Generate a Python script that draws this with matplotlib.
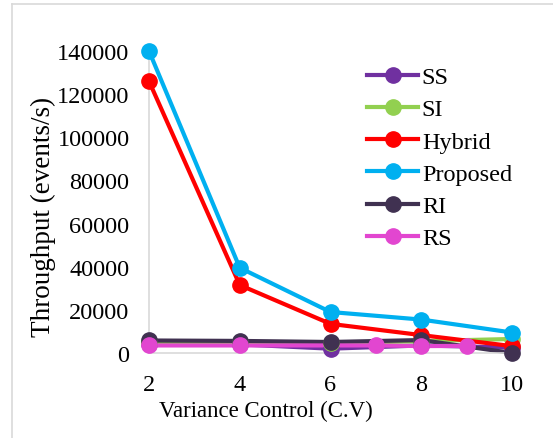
import matplotlib
matplotlib.use('Agg')
import matplotlib.pyplot as plt
from matplotlib.lines import Line2D

plt.rcParams['font.family'] = ['Liberation Serif', 'DejaVu Serif']

# throughput per variance control level
cv = [2, 4, 6, 8, 10]
cv_rs = [2, 4, 7, 8, 9]
ss = [4000, 4000, 2000, 3500, 2500]
si = [5000, 5000, 4500, 5500, 6500]
hybrid = [126000, 31500, 13500, 8300, 3200]
proposed = [140000, 39500, 19000, 15500, 9500]
ri = [5800, 5600, 5100, 6000, 0]
rs = [3500, 3500, 3500, 3200, 3300]

names = ['SS', 'SI', 'Hybrid', 'Proposed', 'RI', 'RS']
colors = ['#7030A0', '#92D050', '#FF0000', '#00B0F0', '#403151', '#E246D0']
xs = [cv, cv, cv, cv, cv, cv_rs]
ys = [ss, si, hybrid, proposed, ri, rs]

yticks = [0, 20000, 40000, 60000, 80000, 100000, 120000, 140000]
xticks = [2, 4, 6, 8, 10]

fs = 17.5
fig = plt.figure(figsize=(5.53, 4.39), dpi=100)
ax = fig.add_axes([149 / 553, 1 - 354 / 439, 363 / 553, 302 / 439])

# lines first, markers on top
for i in range(len(names)):
    ax.plot(xs[i], ys[i], color=colors[i], lw=3, zorder=2 + i * 0.01,
            clip_on=False, solid_capstyle='round')
for i in range(len(names)):
    ax.plot(xs[i], ys[i], ls='none', marker='o', ms=11, color=colors[i],
            zorder=3 + i * 0.01, clip_on=False)

ax.set_xlim(2, 10)
ax.set_ylim(0, 140000)
ax.set_xticks(xticks)
ax.set_yticks(yticks)
ax.set_xticklabels([str(v) for v in xticks], fontsize=fs)
ax.set_yticklabels([str(v) for v in yticks], fontsize=fs)
ax.tick_params(length=0)
ax.tick_params(axis='y', pad=14)
ax.tick_params(axis='x', pad=15)
for s in ['top', 'right']:
    ax.spines[s].set_visible(False)
for s in ['left', 'bottom']:
    ax.spines[s].set_color('#d9d9d9')
    ax.spines[s].set_linewidth(1.2)

ax.set_xlabel('Variance Control (C.V)', fontsize=16.5)
ax.xaxis.set_label_coords(0.322, -0.155)
ax.set_ylabel('Throughput (events/s)', fontsize=19.5)
ax.yaxis.set_label_coords(-0.255, 0.454)

handles = [Line2D([], [], color=c, lw=3, marker='o', ms=11) for c in colors]
leg = fig.legend(handles, names, loc='upper left', bbox_to_anchor=(355 / 553, 1 - 55 / 439),
                 frameon=False, fontsize=fs, handlelength=2.1, handletextpad=0.15,
                 labelspacing=0.42, borderpad=0)

# outer frame
fig.add_artist(Line2D([12 / 553, 12 / 553], [0, 1 - 5 / 439], color='#d9d9d9', lw=1.2))
fig.add_artist(Line2D([12 / 553, 1], [1 - 5 / 439, 1 - 5 / 439], color='#d9d9d9', lw=1.2))

fig.savefig('out.png', dpi=100)
